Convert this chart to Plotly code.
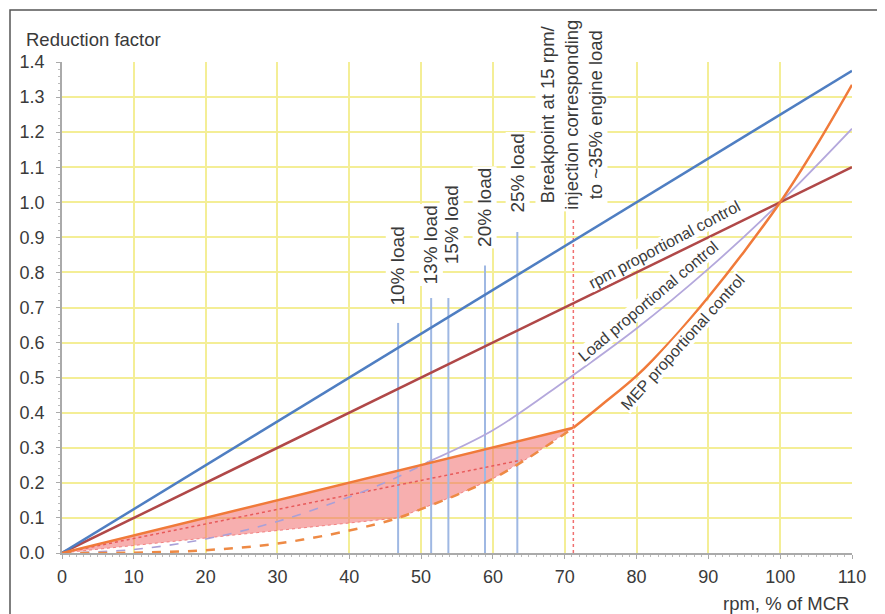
import plotly.graph_objects as go

# ---------------- data ----------------
blue_x = [0, 110]
blue_y = [0, 1.375]

rpm_x = [0, 100, 110]
rpm_y = [0, 1.0, 1.1]

load_x_dash = [0, 10, 20, 30, 40, 46, 51]
load_y_dash = [0, 0.01, 0.04, 0.09, 0.16, 0.21, 0.26]
load_x_solid = [51, 60, 70, 80, 90, 100, 110]
load_y_solid = [0.26, 0.35, 0.49, 0.64, 0.81, 1.0, 1.21]

mep_lin_x = [0, 71.2]
mep_lin_y = [0, 0.357]
mep_curve_x = [71.2, 75, 80, 85, 90, 95, 100, 105, 110]
mep_curve_y = [0.357, 0.42, 0.505, 0.61, 0.73, 0.86, 1.0, 1.16, 1.335]

mep_dash_x = [0, 10, 20, 30, 40, 46.8, 50, 55, 60, 65, 71.2]
mep_dash_y = [0, 0.001, 0.008, 0.027, 0.064, 0.1, 0.125, 0.166, 0.212, 0.272, 0.357]

shade_low_x = [0, 46.8, 50, 55, 60, 65, 71.2]
shade_low_y = [0, 0.1, 0.125, 0.166, 0.212, 0.272, 0.357]

red_dot_x = [0, 64]
red_dot_y = [0, 0.265]

load_labels = ["10% load", "13% load", "15% load", "20% load", "25% load"]
load_line_x = [46.8, 51.4, 53.8, 58.9, 63.4]
load_line_top = [0.656, 0.727, 0.727, 0.82, 0.915]
load_label_x = [46.7, 51.3, 54.2, 58.9, 63.4]
load_label_y = [0.818, 0.878, 0.935, 0.984, 1.083]

break_x = 71.2
break_top = 0.955
break_text = "Breakpoint at 15 rpm/<br>injection corresponding<br>to ~35% engine load"

curve_labels = ["rpm proportional control", "Load proportional control", "MEP proportional control"]
curve_label_x = [83.9, 81.6, 86.4]
curve_label_y = [0.88, 0.716, 0.60]
curve_label_angle = [-28, -40, -48]

x_ticks = list(range(0, 111, 10))
y_ticks = [round(0.1 * i, 1) for i in range(15)]
y_tick_text = [f"{v:.1f}" for v in y_ticks]

FONT = "Liberation Sans, Arial, sans-serif"
TXT = "#3a3a3a"

# page offset (browser body margin) in screen pixels
OFF = 8
PL, PR, PT, PB = 62, 852, 62, 553   # plot area in screen pixels
W, H = 885, 614

def px_x(px):
    return (px - PL) / (PR - PL)

def px_y(py):
    return (PB - py) / (PB - PT)

fig = go.Figure()

# shaded region
fig.add_trace(go.Scatter(
    x=mep_lin_x + shade_low_x[::-1],
    y=mep_lin_y + shade_low_y[::-1],
    fill="toself", fillcolor="rgba(240,110,110,0.55)",
    line=dict(color="rgba(240,110,110,0.8)", width=1, dash="dot"),
    mode="lines", hoverinfo="skip", showlegend=False))

# vertical load lines
for lx, top in zip(load_line_x, load_line_top):
    fig.add_trace(go.Scatter(x=[lx, lx], y=[0, top], mode="lines",
                             line=dict(color="#9fb8e3", width=2),
                             showlegend=False, hoverinfo="skip"))
# breakpoint dotted line
fig.add_trace(go.Scatter(x=[break_x, break_x], y=[0, break_top], mode="lines",
                         line=dict(color="#f07070", width=1.5, dash="dot"),
                         showlegend=False, hoverinfo="skip"))

# red dotted within shade
fig.add_trace(go.Scatter(x=red_dot_x, y=red_dot_y, mode="lines",
                         line=dict(color="#e85a5a", width=1.5, dash="dot"),
                         showlegend=False))
# load proportional (lavender)
fig.add_trace(go.Scatter(x=load_x_dash, y=load_y_dash, mode="lines", line_shape="spline",
                         line=dict(color="#a9a0d8", width=1.6, dash="dash"),
                         showlegend=False))
fig.add_trace(go.Scatter(x=load_x_solid, y=load_y_solid, mode="lines", line_shape="spline",
                         line=dict(color="#b4a8dc", width=1.8),
                         showlegend=False))
# MEP dashed
fig.add_trace(go.Scatter(x=mep_dash_x, y=mep_dash_y, mode="lines", line_shape="spline",
                         line=dict(color="#ee8a45", width=2.5, dash="dash"),
                         showlegend=False))
# rpm proportional
fig.add_trace(go.Scatter(x=rpm_x, y=rpm_y, mode="lines",
                         line=dict(color="#b04848", width=2.5), showlegend=False))
# blue
fig.add_trace(go.Scatter(x=blue_x, y=blue_y, mode="lines",
                         line=dict(color="#4f7ec2", width=2.5), showlegend=False))
# MEP solid (linear part + curve)
fig.add_trace(go.Scatter(x=mep_lin_x, y=mep_lin_y, mode="lines",
                         line=dict(color="#f07a3a", width=2.5), showlegend=False))
fig.add_trace(go.Scatter(x=mep_curve_x, y=mep_curve_y, mode="lines", line_shape="spline",
                         line=dict(color="#f07a3a", width=2.5), showlegend=False))

ann = []
for lab, lx, ly in zip(load_labels, load_label_x, load_label_y):
    ann.append(dict(x=lx, y=ly, text=lab, textangle=-90, showarrow=False,
                    bgcolor="white", font=dict(size=19, color=TXT, family=FONT)))
ann.append(dict(x=71.0, y=1.249, text=break_text, textangle=-90, showarrow=False,
                bgcolor="white", align="center",
                font=dict(size=18.5, color=TXT, family=FONT)))
for lab, lx, ly, ang in zip(curve_labels, curve_label_x, curve_label_y, curve_label_angle):
    ann.append(dict(x=lx, y=ly, text=lab, textangle=ang, showarrow=False,
                    bgcolor="white", borderpad=0,
                    font=dict(size=16, color=TXT, family=FONT)))
ann.append(dict(xref="paper", yref="paper", x=px_x(24), y=px_y(40),
                xanchor="left", yanchor="middle", text="Reduction factor",
                showarrow=False, font=dict(size=18.5, color=TXT, family=FONT)))
ann.append(dict(xref="paper", yref="paper", x=px_x(851), y=px_y(603),
                xanchor="right", yanchor="middle", text="rpm, % of MCR",
                showarrow=False, font=dict(size=18.5, color=TXT, family=FONT)))

fig.update_layout(
    width=W, height=H,
    margin=dict(l=PL - OFF, r=W - (PR - OFF), t=PT - OFF, b=H - (PB - OFF), autoexpand=False),
    paper_bgcolor="white", plot_bgcolor="white",
    annotations=ann,
    shapes=[dict(type="rect", xref="paper", yref="paper",
                 x0=px_x(10), x1=px_x(879),
                 y0=px_y(640), y1=px_y(10),
                 line=dict(color="#555555", width=1.5), layer="below")],
)
fig.update_xaxes(range=[0, 110], tickvals=x_ticks, ticktext=[str(v) for v in x_ticks],
                 showgrid=True, gridcolor="#f4ee96", gridwidth=2,
                 showline=True, linecolor="#aaaaaa", linewidth=1.5,
                 ticks="outside", ticklen=4, tickcolor="#aaaaaa", ticklabelstandoff=3,
                 minor=dict(dtick=1, ticks="outside", ticklen=2, tickcolor="#bbbbbb", showgrid=False),
                 tickfont=dict(size=18, color=TXT, family=FONT), zeroline=False, automargin=False)
fig.update_yaxes(range=[0, 1.4], tickvals=y_ticks, ticktext=y_tick_text,
                 showgrid=True, gridcolor="#f4ee96", gridwidth=2,
                 showline=True, linecolor="#aaaaaa", linewidth=1.5,
                 ticks="outside", ticklen=4, tickcolor="#aaaaaa", ticklabelstandoff=8,
                 minor=dict(dtick=0.02, ticks="outside", ticklen=2, tickcolor="#bbbbbb", showgrid=False),
                 tickfont=dict(size=18, color=TXT, family=FONT), zeroline=False, automargin=False)

fig.write_html("out.html")
